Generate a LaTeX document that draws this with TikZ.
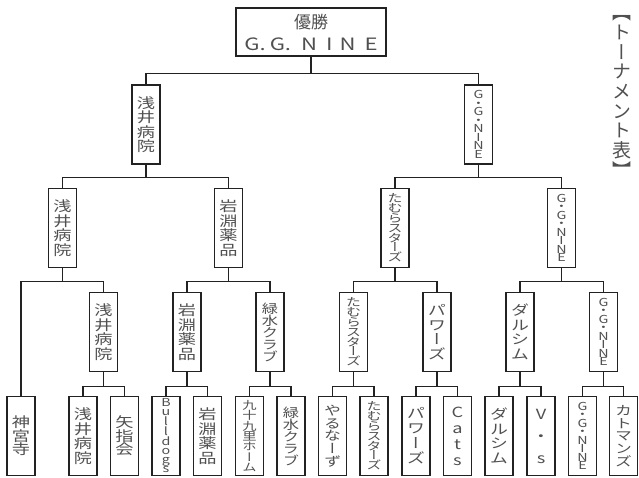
\documentclass[tikz,border=0pt]{standalone}
\usepackage{fontspec}
\setmainfont{Noto Sans CJK JP}
\newfontfamily\tate[RawFeature=+vert,FakeStretch=1.3]{Noto Sans CJK JP}
\newfontfamily\tatesq[RawFeature=+vert]{Noto Sans CJK JP}
\newfontfamily\wide[FakeStretch=1.3]{Noto Sans CJK JP}
\usetikzlibrary{positioning,calc}
\definecolor{ink}{HTML}{222222}
\definecolor{txt}{HTML}{505050}
\tikzset{box/.style={draw=ink,line width=1.1pt,fill=white,minimum width=28pt,minimum height=79pt,inner sep=0pt,align=center,text=txt},
  champ/.style={draw=ink,line width=2.2pt,minimum width=150pt,minimum height=48pt,inner sep=0pt,align=center,text=txt},
  wire/.style={draw=ink,line width=1.1pt}}
\newcommand{\tf}[2]{\tate\fontsize{#1}{#2}\selectfont}
\newcommand{\bracket}[4]{%
 \coordinate (#1j) at ([yshift=-#4pt]#1.south);
 \draw[wire] (#2.north) |- (#1j) -| (#3.north);
 \draw[wire] (#1.south) -- (#1j);
}

\begin{document}
\begin{tikzpicture}[x=1pt,y=-1pt]
\useasboundingbox (0,0) rectangle (639,477);
% winner
\node[champ,font=\fontsize{17}{22}\selectfont] (w) at (311,32)
  {優勝\\{\wide\fontsize{17}{22}\selectfont G.\hspace{4pt}G.\hspace{10pt}N\hspace{9pt}I\hspace{7pt}N\hspace{9pt}E}};
\node[text=txt,font=\tatesq\fontsize{19}{19.7}\selectfont,align=center,inner sep=0pt] (title) at (622,96.5)
  {【\\ト\\ー\\ナ\\メ\\ン\\ト\\表\\】};
% semi finals
\node[box,font=\tf{14}{14.5}] (a1) at (146,124.5) {浅\\井\\病\\院};
\node[box,font=\tf{11}{8.5}] (a2) at (478.5,124.5) {G\\・\\G\\・\\N\\I\\N\\E};
% second round
\node[box,font=\tf{14}{14.5}] (b1) at (62.5,228) {浅\\井\\病\\院};
\node[box,font=\tf{14}{14.5}] (b2) at (228.5,228) {岩\\淵\\薬\\品};
\node[box,font=\tf{11.5}{9.8}] (b3) at (395,228) {た\\む\\ら\\ス\\タ\\ー\\ズ};
\node[box,font=\tf{11}{8.5}] (b4) at (561.5,228) {G\\・\\G\\・\\N\\I\\N\\E};
% first round
\node[box,font=\tf{14}{14.5}] (c1) at (103.5,332) {浅\\井\\病\\院};
\node[box,font=\tf{14}{14.5}] (c2) at (187,332) {岩\\淵\\薬\\品};
\node[box,font=\tf{12.5}{12}] (c3) at (270,332) {緑\\水\\ク\\ラ\\ブ};
\node[box,font=\tf{11.5}{9.8}] (c4) at (353.5,332) {た\\む\\ら\\ス\\タ\\ー\\ズ};
\node[box,font=\tf{14}{14.5}] (c5) at (437,332) {パ\\ワ\\ー\\ズ};
\node[box,font=\tf{14}{14.5}] (c6) at (520,332) {ダ\\ル\\シ\\ム};
\node[box,font=\tf{11}{8.5}] (c7) at (603.5,332) {G\\・\\G\\・\\N\\I\\N\\E};
% teams
\node[box,font=\tf{14}{13.5}] (d0) at (21,436) {神\\宮\\寺};
\node[box,font=\tf{14}{14.5}] (d1) at (83,436) {浅\\井\\病\\院};
\node[box,font=\tf{14}{13.5}] (d2) at (124.5,436) {矢\\指\\会};
\node[box,font=\tf{11}{8.8}] (d3) at (166,436) {B\\u\\l\\l\\d\\o\\g\\s};
\node[box,font=\tf{14}{14.5}] (d4) at (207.5,436) {岩\\淵\\薬\\品};
\node[box,font=\tf{11}{10.3}] (d5) at (249.5,436) {九\\十\\九\\里\\ホ\\ー\\ム};
\node[box,font=\tf{12.5}{12}] (d6) at (291,436) {緑\\水\\ク\\ラ\\ブ};
\node[box,font=\tf{13}{12.7}] (d7) at (332.5,436) {や\\る\\な\\ー\\ず};
\node[box,font=\tf{11.5}{9.8}] (d8) at (374,436) {た\\む\\ら\\ス\\タ\\ー\\ズ};
\node[box,font=\tf{14}{15}] (d9) at (416,436) {パ\\ワ\\ー\\ズ};
\node[box,font=\tf{14}{16}] (d10) at (457.5,436) {C\\a\\t\\s};
\node[box,font=\tf{14}{14.5}] (d11) at (499,436) {ダ\\ル\\シ\\ム};
\node[box,font=\tf{14}{22}] (d12) at (541,436) {V\\・\\s};
\node[box,font=\tf{11}{8.5}] (d13) at (582.5,436) {G\\・\\G\\・\\N\\I\\N\\E};
\node[box,font=\tf{13}{12.7}] (d14) at (623.5,436) {カ\\ト\\マ\\ン\\ズ};
% lines
\bracket{w}{a1}{a2}{16}
\bracket{a1}{b1}{b2}{13}
\bracket{a2}{b3}{b4}{13}
\bracket{b1}{d0}{c1}{13}
\bracket{b2}{c2}{c3}{13}
\bracket{b3}{c4}{c5}{13}
\bracket{b4}{c6}{c7}{13}
\bracket{c1}{d1}{d2}{14}
\bracket{c2}{d3}{d4}{14}
\bracket{c3}{d5}{d6}{14}
\bracket{c4}{d7}{d8}{14}
\bracket{c5}{d9}{d10}{14}
\bracket{c6}{d11}{d12}{14}
\bracket{c7}{d13}{d14}{14}
\end{tikzpicture}
\end{document}
